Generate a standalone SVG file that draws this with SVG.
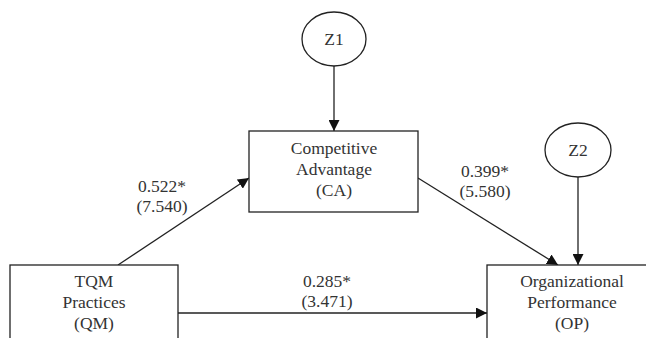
<svg xmlns="http://www.w3.org/2000/svg" width="646" height="338" viewBox="0 0 646 338">
  <style>
    .box { fill: #fff; stroke: #222; stroke-width: 1.3; }
    .err { fill: #fff; stroke: #222; stroke-width: 1.3; }
    .edge { stroke: #222; stroke-width: 1.3; fill: none; marker-end: url(#arrow); }
    text { font-family: "Liberation Serif", "Times New Roman", serif; font-size: 17.5px; fill: #333; text-anchor: middle; }
  </style>
  <defs>
    <marker id="arrow" viewBox="0 0 10 10" refX="10" refY="5" markerWidth="11" markerHeight="11" markerUnits="userSpaceOnUse" orient="auto">
      <path d="M0,0 L10,5 L0,10 Z" fill="#111"/>
    </marker>
  </defs>
  <rect width="646" height="338" fill="#fff"/>

  <g id="connectors">
    <line class="edge" x1="334" y1="66" x2="334" y2="131"/>
    <line class="edge" x1="578" y1="177" x2="578" y2="265"/>
    <line class="edge" x1="118" y1="265" x2="249" y2="178"/>
    <line class="edge" x1="418" y1="178" x2="558" y2="265"/>
    <line class="edge" x1="178" y1="313" x2="487" y2="313"/>
  </g>

  <g id="labels">
    <text x="162" y="192">0.522*</text>
    <text x="162" y="212">(7.540)</text>
    <text x="485" y="177">0.399*</text>
    <text x="485" y="197">(5.580)</text>
    <text x="327" y="287">0.285*</text>
    <text x="327" y="307">(3.471)</text>
  </g>

  <g id="Z1">
    <ellipse class="err" cx="334" cy="39" rx="32" ry="27"/>
    <text x="334" y="45">Z1</text>
  </g>

  <g id="Z2">
    <ellipse class="err" cx="578" cy="150" rx="33" ry="27"/>
    <text x="578" y="156">Z2</text>
  </g>

  <g id="CA">
    <rect class="box" x="249" y="131" width="169" height="81"/>
    <text x="334" y="154">Competitive</text>
    <text x="334" y="175">Advantage</text>
    <text x="334" y="196">(CA)</text>
  </g>

  <g id="QM">
    <rect class="box" x="10" y="265" width="168" height="90"/>
    <text x="94" y="287">TQM</text>
    <text x="94" y="308">Practices</text>
    <text x="94" y="329">(QM)</text>
  </g>

  <g id="OP">
    <rect class="box" x="487" y="265" width="175" height="90"/>
    <text x="572" y="287">Organizational</text>
    <text x="572" y="308">Performance</text>
    <text x="572" y="329">(OP)</text>
  </g>
</svg>
